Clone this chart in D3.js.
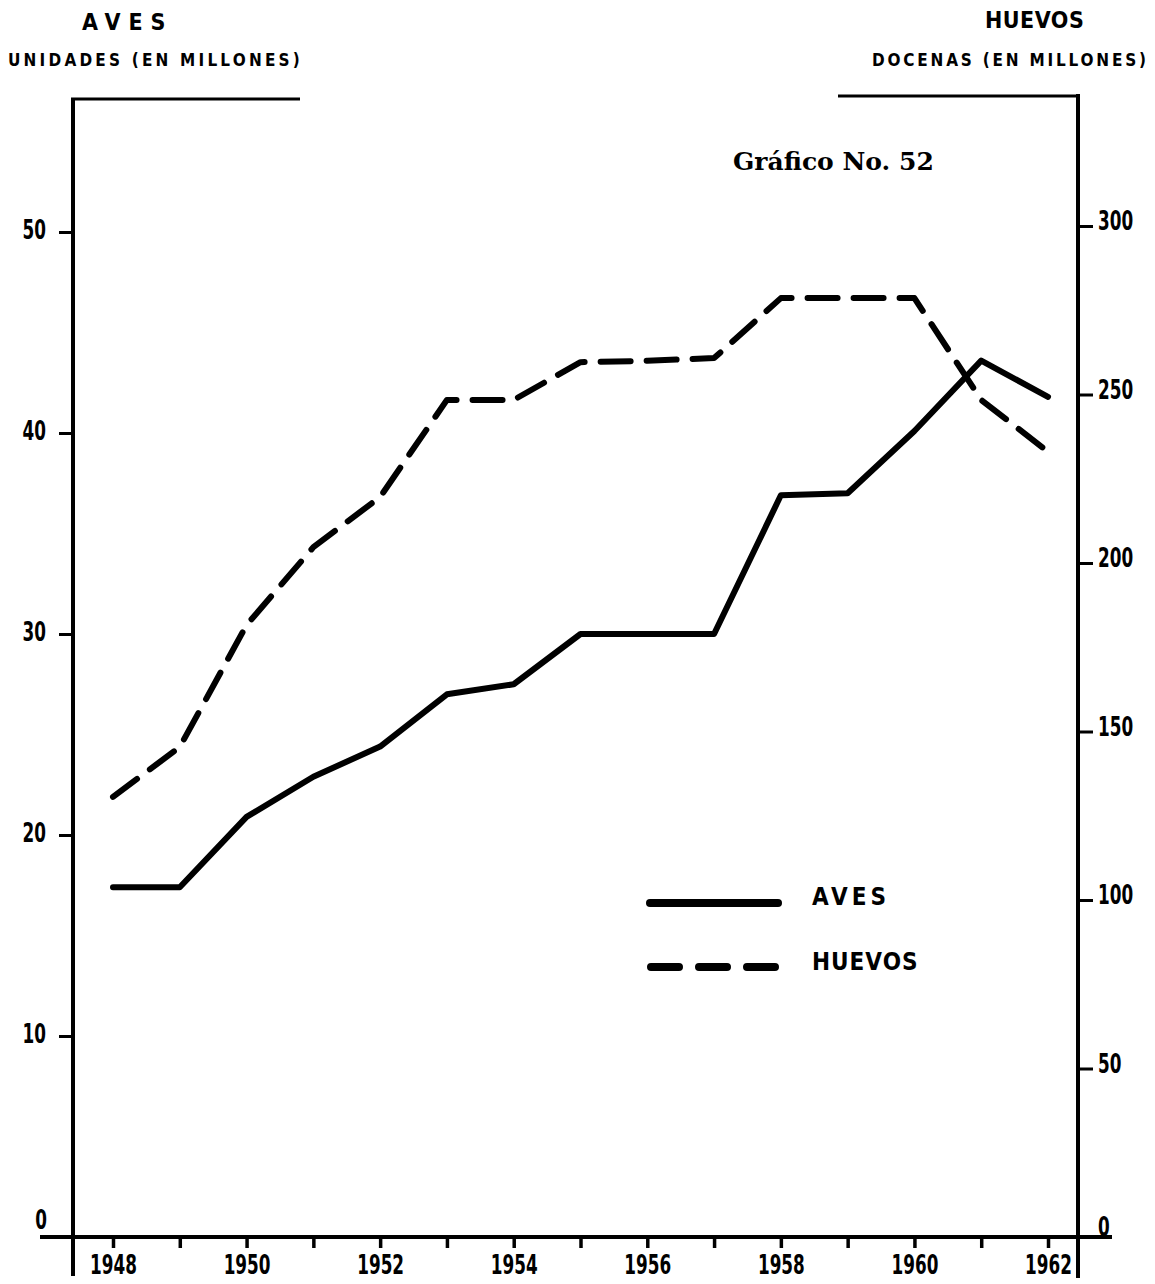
<!DOCTYPE html>
<html>
<head>
<meta charset="utf-8">
<script src="https://cdn.jsdelivr.net/npm/d3@7"></script>
<style>
  html, body { margin: 0; padding: 0; background: #fff; }
  svg { display: block; }
  .lbl { font-family: "DejaVu Sans Condensed", "DejaVu Sans", sans-serif; font-weight: bold; fill: #000; }
  .hdr { font-family: "DejaVu Sans Condensed", "DejaVu Sans", sans-serif; font-weight: bold; fill: #000; }
  .ttl { font-family: "DejaVu Serif", "Liberation Serif", serif; font-weight: bold; fill: #000; }
</style>
</head>
<body>
<script>
// Producción avícola: aves (millones de unidades) y huevos (millones de docenas)
const years = [1948, 1949, 1950, 1951, 1952, 1953, 1954, 1955, 1956, 1957, 1958, 1959, 1960, 1961, 1962];
const aves = [17.4, 17.4, 20.9, 22.9, 24.4, 27.0, 27.5, 30.0, 30.0, 30.0, 36.9, 37.0, 40.1, 43.6, 41.8];
const huevos = [130.6, 145.4, 181.6, 204.7, 219.6, 248.4, 248.4, 259.6, 260.0, 260.8, 278.6, 278.6, 278.6, 248.4, 233.0];
const leftTicks = [0, 10, 20, 30, 40, 50];
const rightTicks = [0, 50, 100, 150, 200, 250, 300];
const yearLabels = [1948, 1950, 1952, 1954, 1956, 1958, 1960, 1962];

const W = 1155, H = 1284;
const svg = d3.select("body").append("svg").attr("width", W).attr("height", H);

const leftX = 73, rightX = 1078, baseY = 1237;
const x = d3.scaleLinear().domain([1948, 1962]).range([113, 1048]);
const yL = d3.scaleLinear().domain([0, 50]).range([baseY, 232]);
const yR = d3.scaleLinear().domain([0, 300]).range([baseY, 226]);

const ink = "#000";
const labelSize = 26, squeeze = 0.72;   // tall, narrow stencil-like numerals

// Frame: vertical axes with the short caps at the top, and the base line
svg.append("line").attr("x1", leftX).attr("x2", leftX).attr("y1", 98).attr("y2", 1276)
  .attr("stroke", ink).attr("stroke-width", 4);
svg.append("line").attr("x1", leftX - 2).attr("x2", 300).attr("y1", 99).attr("y2", 99)
  .attr("stroke", ink).attr("stroke-width", 3);
svg.append("line").attr("x1", rightX).attr("x2", rightX).attr("y1", 94).attr("y2", 1278)
  .attr("stroke", ink).attr("stroke-width", 4);
svg.append("line").attr("x1", 838).attr("x2", rightX + 2).attr("y1", 96).attr("y2", 96)
  .attr("stroke", ink).attr("stroke-width", 3);
svg.append("line").attr("x1", 40).attr("x2", 1112).attr("y1", baseY).attr("y2", baseY)
  .attr("stroke", ink).attr("stroke-width", 4);

// Left axis (aves)
const gL = svg.append("g").attr("transform", `translate(${leftX},0)`)
  .call(d3.axisLeft(yL).tickValues(leftTicks.filter(d => d > 0)).tickSize(14));
gL.select(".domain").remove();
gL.selectAll(".tick line").attr("stroke", ink).attr("stroke-width", 3);
gL.selectAll(".tick text").attr("class", "lbl").attr("font-size", labelSize)
  .attr("x", -27 / squeeze).attr("dy", "0.25em")
  .attr("transform", `scale(${squeeze},1)`);
svg.append("text").attr("class", "lbl").attr("font-size", labelSize)
  .attr("text-anchor", "end")
  .attr("transform", `translate(${leftX - 26},${yL(0) - 8}) scale(${squeeze},1)`)
  .text(leftTicks[0]);

// Right axis (huevos)
const gR = svg.append("g").attr("transform", `translate(${rightX},0)`)
  .call(d3.axisRight(yR).tickValues(rightTicks.filter(d => d > 0)).tickSize(15));
gR.select(".domain").remove();
gR.selectAll(".tick line").attr("stroke", ink).attr("stroke-width", 3);
gR.selectAll(".tick text").attr("class", "lbl").attr("font-size", labelSize)
  .attr("x", 20 / squeeze).attr("dy", "0.15em")
  .attr("transform", `scale(${squeeze},1)`);
svg.append("text").attr("class", "lbl").attr("font-size", labelSize)
  .attr("transform", `translate(${rightX + 20},${yR(0) - 1}) scale(${squeeze},1)`)
  .text(rightTicks[0]);

// Bottom axis (years)
const gB = svg.append("g").attr("transform", `translate(0,${baseY})`)
  .call(d3.axisBottom(x).tickValues(years).tickSize(11).tickPadding(8)
    .tickFormat(d => yearLabels.includes(d) ? String(d) : ""));
gB.select(".domain").remove();
gB.selectAll(".tick line").attr("stroke", ink).attr("stroke-width", 3.5);
gB.selectAll(".tick text").attr("class", "lbl").attr("font-size", labelSize)
  .attr("transform", `scale(${squeeze},1)`);

// Series
const lineL = d3.line().x((d, i) => x(years[i])).y(d => yL(d));
const lineR = d3.line().x((d, i) => x(years[i])).y(d => yR(d));

svg.append("path").datum(huevos).attr("d", lineR)
  .attr("fill", "none").attr("stroke", ink).attr("stroke-width", 6)
  .attr("stroke-linejoin", "round").attr("stroke-linecap", "round")
  .attr("stroke-dasharray", "30 16");

svg.append("path").datum(aves).attr("d", lineL)
  .attr("fill", "none").attr("stroke", ink).attr("stroke-width", 6)
  .attr("stroke-linejoin", "round").attr("stroke-linecap", "round");

// Legend
const legend = svg.append("g");
legend.append("line").attr("x1", 650).attr("x2", 778).attr("y1", 903).attr("y2", 903)
  .attr("stroke", ink).attr("stroke-width", 8).attr("stroke-linecap", "round");
legend.append("line").attr("x1", 651).attr("x2", 778).attr("y1", 967).attr("y2", 967)
  .attr("stroke", ink).attr("stroke-width", 8).attr("stroke-linecap", "round")
  .attr("stroke-dasharray", "28 20");
legend.append("text").attr("class", "hdr").attr("font-size", 24).attr("letter-spacing", 4)
  .attr("x", 812).attr("y", 905).text("AVES");
legend.append("text").attr("class", "hdr").attr("font-size", 24).attr("letter-spacing", 1)
  .attr("x", 812).attr("y", 970).text("HUEVOS");

// Headings
svg.append("text").attr("class", "hdr").attr("font-size", 23).attr("letter-spacing", 8)
  .attr("x", 82).attr("y", 30).text("AVES");
svg.append("text").attr("class", "hdr").attr("font-size", 17).attr("letter-spacing", 3.2)
  .attr("x", 8).attr("y", 66).text("UNIDADES (EN MILLONES)");
svg.append("text").attr("class", "hdr").attr("font-size", 23).attr("letter-spacing", 0.5)
  .attr("x", 985).attr("y", 28).text("HUEVOS");
svg.append("text").attr("class", "hdr").attr("font-size", 17).attr("letter-spacing", 2.8)
  .attr("x", 872).attr("y", 66).text("DOCENAS (EN MILLONES)");

svg.append("text").attr("class", "ttl").attr("font-size", 25)
  .attr("x", 733).attr("y", 170).text("Gráfico No. 52");
</script>
</body>
</html>
